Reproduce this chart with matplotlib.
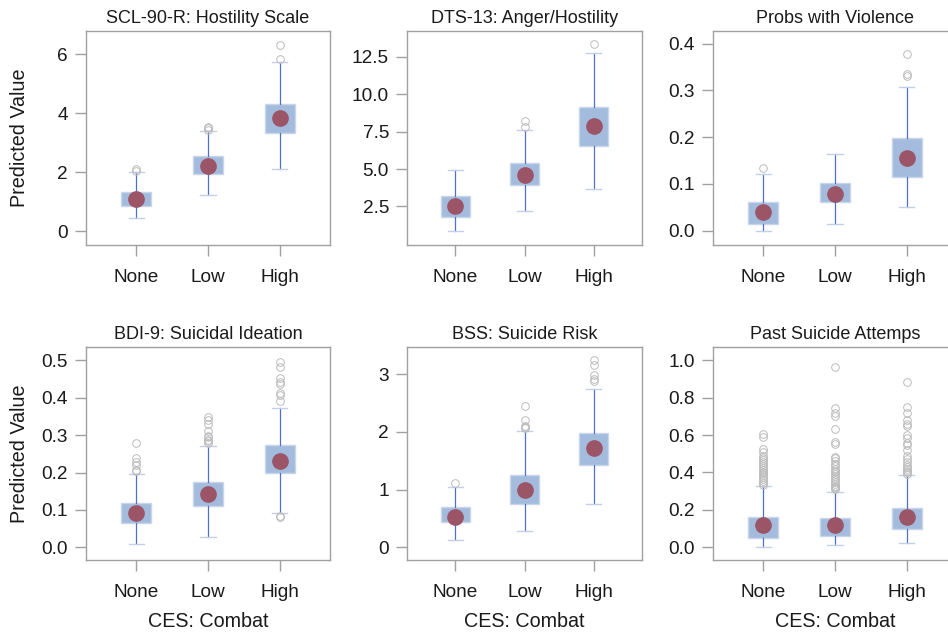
import matplotlib
matplotlib.use("Agg")
import matplotlib.pyplot as plt

plt.rcParams['font.family'] = ['Liberation Sans', 'DejaVu Sans']

categories = ["None", "Low", "High"]
titles = ["SCL-90-R: Hostility Scale", "DTS-13: Anger/Hostility", "Probs with Violence",
          "BDI-9: Suicidal Ideation", "BSS: Suicide Risk", "Past Suicide Attemps"]

# per panel: [None, Low, High]
q1 = [[0.87, 1.93, 3.35], [1.82, 3.93, 6.56], [0.015, 0.060, 0.115],
      [0.066, 0.110, 0.198], [0.43, 0.745, 1.42], [0.052, 0.061, 0.096]]
q3 = [[1.32, 2.54, 4.33], [3.22, 5.41, 9.13], [0.061, 0.101, 0.199],
      [0.119, 0.176, 0.273], [0.69, 1.26, 1.98], [0.160, 0.158, 0.212]]
whislo = [[0.47, 1.25, 2.10], [0.88, 2.21, 3.68], [0.0, 0.015, 0.051],
          [0.008, 0.028, 0.092], [0.12, 0.28, 0.745], [0.004, 0.011, 0.021]]
whishi = [[2.0, 3.39, 5.73], [4.94, 7.61, 12.77], [0.120, 0.163, 0.308],
          [0.195, 0.272, 0.373], [1.05, 2.01, 2.74], [0.327, 0.298, 0.386]]
means = [[1.09, 2.23, 3.83], [2.50, 4.63, 7.86], [0.040, 0.079, 0.155],
         [0.091, 0.143, 0.232], [0.53, 1.00, 1.72], [0.120, 0.120, 0.163]]
fliers = [
    [[2.05, 2.10], [3.45, 3.50, 3.53], [5.83, 6.32]],
    [[], [7.81, 8.21], [13.34]],
    [[0.134], [], [0.331, 0.335, 0.377]],
    [[0.204, 0.208, 0.219, 0.229, 0.240, 0.279],
     [0.280, 0.284, 0.288, 0.294, 0.299, 0.310, 0.329, 0.341, 0.350],
     [0.080, 0.085, 0.392, 0.408, 0.414, 0.437, 0.442, 0.453, 0.482, 0.495]],
    [[1.11], [2.06, 2.08, 2.10, 2.20, 2.44], [2.88, 2.92, 2.98, 3.16, 3.24]],
    [[0.335, 0.345, 0.355, 0.365, 0.375, 0.385, 0.395, 0.405, 0.415, 0.425,
      0.435, 0.445, 0.455, 0.465, 0.475, 0.49, 0.51, 0.525, 0.59, 0.605],
     [0.31, 0.315, 0.32, 0.33, 0.34, 0.35, 0.36, 0.37, 0.38, 0.39, 0.40,
      0.41, 0.42, 0.435, 0.445, 0.46, 0.475, 0.485, 0.55, 0.565, 0.635,
      0.70, 0.72, 0.745, 0.965],
     [0.39, 0.40, 0.41, 0.42, 0.43, 0.44, 0.455, 0.47, 0.49, 0.52, 0.545,
      0.56, 0.585, 0.60, 0.65, 0.66, 0.68, 0.72, 0.75, 0.885]],
]
yticks = [[0, 2, 4, 6], [2.5, 5.0, 7.5, 10.0, 12.5], [0.0, 0.1, 0.2, 0.3, 0.4],
          [0.0, 0.1, 0.2, 0.3, 0.4, 0.5], [0, 1, 2, 3], [0.0, 0.2, 0.4, 0.6, 0.8, 1.0]]
yticklabels = [["0", "2", "4", "6"], ["2.5", "5.0", "7.5", "10.0", "12.5"],
               ["0.0", "0.1", "0.2", "0.3", "0.4"],
               ["0.0", "0.1", "0.2", "0.3", "0.4", "0.5"], ["0", "1", "2", "3"],
               ["0.0", "0.2", "0.4", "0.6", "0.8", "1.0"]]
ylims = [(-0.46, 6.79), (-0.08, 14.23), (-0.031, 0.427),
         (-0.034, 0.536), (-0.22, 3.47), (-0.068, 1.071)]

W, H = 948, 633
fig = plt.figure(figsize=(W / 100, H / 100), dpi=100)

xs = [(86, 330), (407, 642), (713, 957)]
ys = [(31, 245), (347, 560)]

frame = '#a0a0a0'
box_fc = '#a3bcdd'
box_ec = '#c9d5ea'
whisk_c = '#4d70c9'
cap_c = '#c2cfea'
mean_c = '#9c5467'
flier_c = '#bcbcbc'

for i in range(6):
    r, c = divmod(i, 3)
    x0, x1 = xs[c]
    y0, y1 = ys[r]
    ax = fig.add_axes([x0 / W, (H - y1) / H, (x1 - x0) / W, (y1 - y0) / H])
    stats = []
    for j in range(3):
        stats.append(dict(med=means[i][j], q1=q1[i][j], q3=q3[i][j],
                          whislo=whislo[i][j], whishi=whishi[i][j],
                          fliers=fliers[i][j], label=categories[j]))
    ax.bxp(stats, positions=[1, 2, 3], widths=0.42, patch_artist=True,
           showfliers=True, manage_ticks=False,
           boxprops=dict(facecolor=box_fc, edgecolor=box_ec, linewidth=1),
           whiskerprops=dict(color=whisk_c, linewidth=0.9),
           capprops=dict(color=cap_c, linewidth=1),
           medianprops=dict(linewidth=0),
           flierprops=dict(marker='o', markerfacecolor='none',
                           markeredgecolor=flier_c, markersize=5.5,
                           markeredgewidth=0.7))
    ax.plot([1, 2, 3], means[i], linestyle='none', marker='o', color=mean_c,
            markersize=11, zorder=5)
    ax.set_xlim(0.3, 3.7)
    ax.set_ylim(*ylims[i])
    ax.set_xticks([1, 2, 3])
    ax.set_xticklabels(categories)
    ax.set_yticks(yticks[i])
    ax.set_yticklabels(yticklabels[i])
    for s in ax.spines.values():
        s.set_color(frame)
        s.set_linewidth(1)
    ax.tick_params(axis='both', colors=frame, labelcolor='#1a1a1a',
                   labelsize=13.7, length=8, width=1, direction='out')
    ax.tick_params(axis='x', pad=9)
    ax.tick_params(axis='y', pad=5)
    ax.set_title(titles[i], fontsize=13, color='#1a1a1a', pad=6)
    if c == 0:
        fig.text(20 / W, (H - (y0 + y1) / 2) / H, "Predicted Value",
                 rotation=90, ha='center', va='center', fontsize=14.2,
                 color='#1a1a1a')
    if r == 1:
        ax.set_xlabel("CES: Combat", fontsize=14.2, color='#1a1a1a', labelpad=8)

fig.savefig("out.png", dpi=100)
